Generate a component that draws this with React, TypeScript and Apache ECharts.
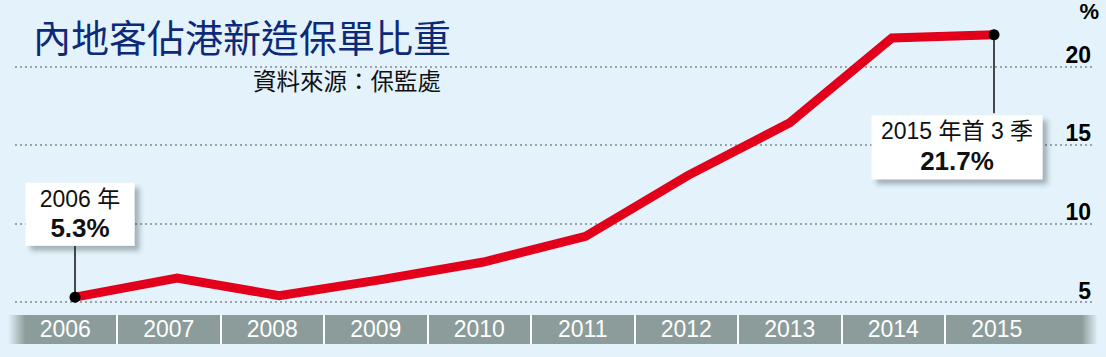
import React, { useEffect, useRef } from "react";
import * as echarts from "echarts";

// ---- data ----
const years = ["2006", "2007", "2008", "2009", "2010", "2011", "2012", "2013", "2014", "2015"];
const shares = [5.3, 6.5, 5.4, 6.4, 7.5, 9.1, 12.9, 16.2, 21.5, 21.7];
const yMin = 5;
const yMax = 22.5;
const yStep = 5;
const unitLabel = "%";
const titleText = "內地客佔港新造保單比重";
const sourceText = "資料來源：保監處";
const noteIndexes = [0, 9];
const noteLine1 = ["2006 年", "2015 年首 3 季"];
const noteLine2 = ["5.3%", "21.7%"];
// value where each leader line meets its box
const noteLeaderEnds = [8.5, 16.8];

// ---- styles ----
const BG = "#e4f3fb";
const RED = "#e2001a";
const NAVY = "#0c2a78";
const BAND = "#8c9c9a";
const NUM_FONT = "'Liberation Sans', Arial, 'Noto Sans CJK TC', sans-serif";
const CJK_FONT = "'Noto Sans CJK TC', 'Liberation Sans', sans-serif";

const noteLayout = [
  { position: "top", distance: 46, offset: [5, 0], width: 109, padding: [2, 0, 2, 0] },
  { position: "bottom", distance: 75, offset: [-37, 0], width: 171, padding: [2, 0, 3, 0] },
];

function buildOption() {
  const lineData = shares.map((v, i) => {
    const k = noteIndexes.indexOf(i);
    if (k < 0) return { value: v };
    const lay = noteLayout[k];
    return {
      value: v,
      symbol: "circle",
      symbolSize: 11,
      itemStyle: { color: "#000" },
      label: {
        show: true,
        position: lay.position,
        distance: lay.distance,
        offset: lay.offset,
        formatter: `{a|${noteLine1[k]}}\n{b|${noteLine2[k]}}`,
        backgroundColor: "#ffffff",
        width: lay.width,
        padding: lay.padding,
        align: "center",
        shadowColor: "rgba(40,50,60,0.35)",
        shadowBlur: 5,
        shadowOffsetX: 5,
        shadowOffsetY: 5,
        rich: {
          a: { fontSize: 23, lineHeight: 28, color: "#111", fontFamily: NUM_FONT, align: "center", width: lay.width },
          b: { fontSize: 26, lineHeight: 31, color: "#111", fontWeight: "bold", fontFamily: NUM_FONT, align: "center", width: lay.width },
        },
      },
    };
  });

  const leaderLines = noteIndexes.map((idx, k) => [
    { coord: [years[idx], shares[idx]] },
    { coord: [years[idx], noteLeaderEnds[k]] },
  ]);

  return {
    animation: false,
    backgroundColor: BG,
    title: [
      {
        text: titleText,
        left: 28,
        top: 11,
        textStyle: { fontSize: 38, color: NAVY, fontWeight: "normal", fontFamily: CJK_FONT },
      },
      {
        text: sourceText,
        left: 248,
        top: 63,
        textStyle: { fontSize: 23.5, color: "#111", fontWeight: "normal", fontFamily: CJK_FONT },
      },
    ],
    graphic: [
      {
        type: "rect",
        z: -10,
        shape: { x: 8, y: 315, width: 1090, height: 29 },
        style: {
          fill: {
            type: "linear",
            x: 0,
            y: 0,
            x2: 1,
            y2: 0,
            colorStops: [
              { offset: 0, color: BG },
              { offset: 0.016, color: BAND },
              { offset: 0.985, color: BAND },
              { offset: 1, color: BG },
            ],
          },
        },
      },
    ],
    grid: [
      { left: 75, right: 112, top: 22, height: 280 },
      { left: 15, right: 13, top: 22, height: 280 },
      { left: 13.5, right: 57.5, top: 315, height: 29 },
    ],
    xAxis: [
      { gridIndex: 0, type: "category", data: years, boundaryGap: false, show: false },
      { gridIndex: 1, type: "category", data: years, show: false },
      {
        gridIndex: 2,
        type: "category",
        data: years,
        boundaryGap: true,
        z: 3,
        axisLine: { show: false },
        axisTick: { show: false },
        axisLabel: { inside: true, margin: 4, color: "#fff", fontSize: 23, fontFamily: NUM_FONT },
        splitLine: { show: true, showMinLine: false, showMaxLine: false, lineStyle: { color: "#fff", width: 2 } },
      },
    ],
    yAxis: [
      { gridIndex: 0, type: "value", min: yMin, max: yMax, show: false },
      {
        gridIndex: 1,
        type: "value",
        min: yMin,
        max: yMax,
        interval: yStep,
        position: "right",
        axisLine: { show: false },
        axisTick: { show: false },
        axisLabel: {
          inside: true,
          margin: 2,
          showMaxLabel: false,
          verticalAlign: "bottom",
          padding: [0, 0, 0, 0],
          color: "#000",
          fontSize: 23,
          fontWeight: "bold",
          fontFamily: NUM_FONT,
          formatter: (v: number) => (v % yStep === 0 ? String(v) : ""),
        },
        splitLine: {
          show: true,
          showMaxLine: false,
          lineStyle: { color: "#9aa3ab", width: 2, type: [2, 3] },
        },
        name: unitLabel,
        nameLocation: "end",
        nameGap: 5,
        nameTextStyle: { color: "#000", fontSize: 22, fontWeight: "bold", fontFamily: NUM_FONT, align: "right", padding: [0, -6, 0, 0] },
      },
      { gridIndex: 2, type: "value", show: false },
    ],
    series: [
      {
        type: "line",
        xAxisIndex: 0,
        yAxisIndex: 0,
        data: lineData,
        symbol: "none",
        showSymbol: true,
        clip: false,
        z: 5,
        lineStyle: { color: RED, width: 9, join: "miter" },
        markLine: {
          silent: true,
          symbol: ["none", "none"],
          label: { show: false },
          lineStyle: { color: "#111", width: 1.5, type: "solid" },
          data: leaderLines,
        },
      },
    ],
  };
}

export default function App() {
  const ref = useRef<HTMLDivElement>(null);
  useEffect(() => {
    if (!ref.current) return;
    const chart = echarts.init(ref.current, undefined, { renderer: "svg" });
    chart.setOption(buildOption() as any);
    return () => chart.dispose();
  }, []);
  return (
    <div
      ref={ref}
      style={{ position: "absolute", left: 0, top: 0, width: 1106, height: 357 }}
    />
  );
}
